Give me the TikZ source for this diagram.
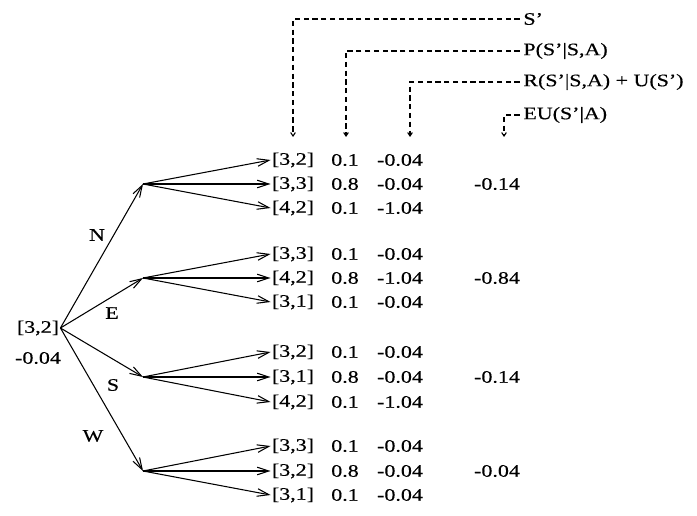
\documentclass[tikz,border=0pt]{standalone}
\usepackage{fontspec}
\setmainfont{Liberation Serif}[FakeStretch=1.25, FakeBold=0.4]
\usetikzlibrary{arrows.meta}

\begin{document}
\begin{tikzpicture}[x=0.03cm, y=-0.03cm, every node/.style={font=\fontsize{15}{18}\selectfont, inner sep=1pt}, tr/.style={line width=0.9pt, -{Straight Barb[length=10pt,width=6.5pt]}}, dl/.style={line width=0.9pt, dash pattern=on 4.5pt off 3pt, shorten <=2pt, -{Straight Barb[length=3pt,width=4pt]}}]
	\useasboundingbox (0,0) rectangle (697,516);
	% start state
	\node (root) at (38,328) {[3,2]};
	\node (rv) at (38,358) {-0.04};
	% column headings
	\node[anchor=west] (hS) at (522,19) {S’};
	\node[anchor=west] (hP) at (522,51) {P(S’|S,A)};
	\node[anchor=west] (hR) at (522,82) {R(S’|S,A) + U(S’)};
	\node[anchor=west] (hE) at (522,115) {EU(S’|A)};
	\coordinate (cS) at (293,137); \coordinate (cP) at (346,137); \coordinate (cR) at (410,137); \coordinate (cE) at (504,137);
	\foreach \h/\c in {hS/cS, hP/cP, hR/cR, hE/cE} {\draw[dl] (\h.west) -| (\c);}
	% actions
	\foreach \a/\y in {n/184, e/278, s/377, w/471} {\coordinate (\a) at (143,\y); \draw[tr] (root.east) -- (\a);}
	\node (lN) at (97,235) {N}; \node (lE) at (112,313) {E}; \node (lS) at (113,385) {S}; \node (lW) at (93,436) {W};
	% outcomes
	\foreach \g/\i/\y/\st/\p/\r in {n/1/160/{[3,2]}/0.1/-0.04, n/2/184/{[3,3]}/0.8/-0.04, n/3/208/{[4,2]}/0.1/-1.04,
		e/1/254/{[3,3]}/0.1/-0.04, e/2/278/{[4,2]}/0.8/-1.04, e/3/302/{[3,1]}/0.1/-0.04,
		s/1/352/{[3,2]}/0.1/-0.04, s/2/377/{[3,1]}/0.8/-0.04, s/3/402/{[4,2]}/0.1/-1.04,
		w/1/446/{[3,3]}/0.1/-0.04, w/2/471/{[3,2]}/0.8/-0.04, w/3/495/{[3,1]}/0.1/-0.04} {
		\node (\g\i) at (293,\y) {\st};
		\node (\g\i p) at (345,\y) {\p};
		\node (\g\i r) at (400,\y) {\r};
		\draw[tr] (\g) -- (\g\i.west);
	}
	% expected utilities
	\foreach \g/\u in {n/-0.14, e/-0.84, s/-0.14, w/-0.04} {\node (\g u) at (497,0 |- \g2) {\u};}
\end{tikzpicture}
\end{document}
